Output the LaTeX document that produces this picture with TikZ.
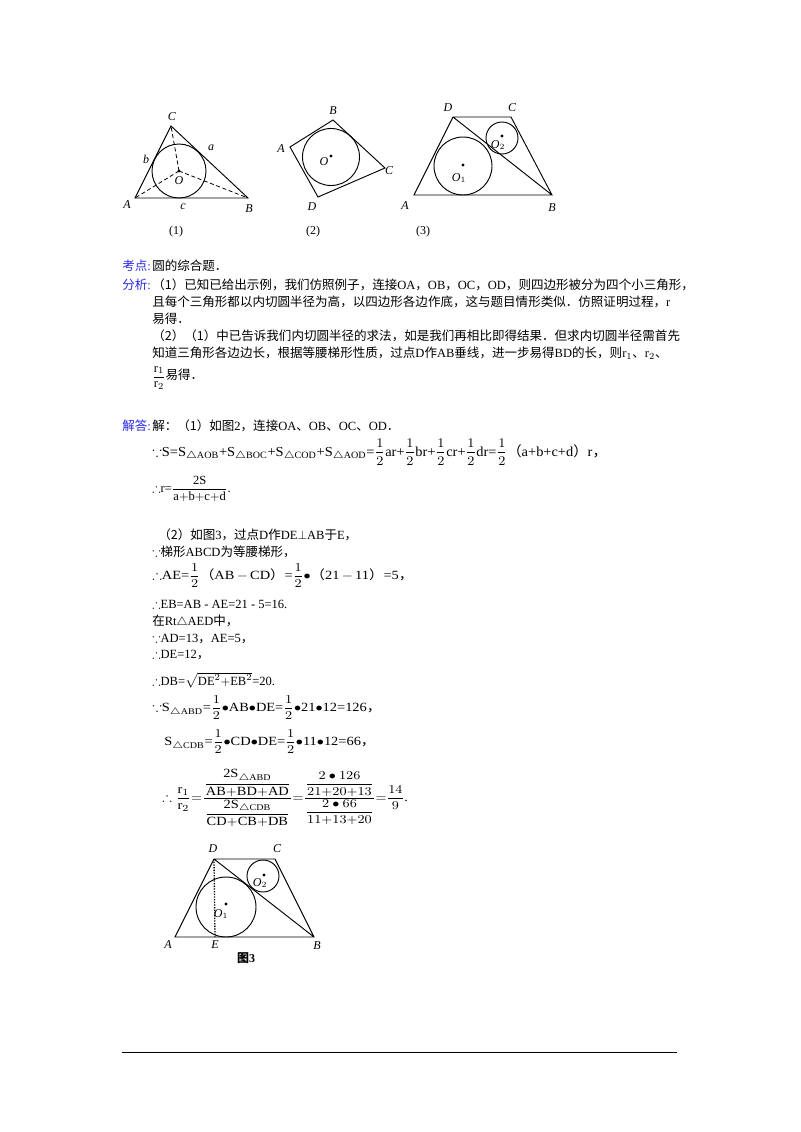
\documentclass[tikz,border=0pt]{standalone}
\usepackage{amsmath,amssymb}
\usepackage{fontspec}
\setmainfont{Liberation Serif}
\newfontfamily\cjk{Noto Sans CJK SC}
\definecolor{lblue}{RGB}{40,40,230}
\newcommand\zh[1]{{\cjk #1}}
\begin{document}
\begin{tikzpicture}[x=0.75pt,y=-0.75pt,
  txt/.style={anchor=west,inner sep=0,font=\fontsize{9.4}{11}\selectfont},
  wide/.style={txt,xscale=1.15},
  lab/.style={inner sep=0,font=\fontsize{9}{10}\selectfont\itshape},
  capt/.style={inner sep=0,font=\fontsize{9}{10}\selectfont},
  geo/.style={line width=0.7pt},
  dsh/.style={densely dashed,line width=0.6pt},
  dot/.style={fill,circle,inner sep=0,minimum size=2.5pt}]
\useasboundingbox (0,0) rectangle (800,1132);
% Figure 1
\coordinate (A1) at (135,198); \coordinate (B1) at (248,198); \coordinate (C1) at (171,126);
\coordinate (O1a) at (179,171);
\draw[geo] (A1)--(B1)--(C1)--cycle;
\draw[geo] (O1a) circle[radius=27];
\draw[dsh] (O1a)--(A1) (O1a)--(B1) (O1a)--(C1);
\node[dot] at (O1a) {};
\node[lab] (lC1) at (172,117) {C}; \node[lab] (la) at (211,148) {a};
\node[lab] (lb) at (146,159) {b}; \node[lab] (lO) at (179,181) {O};
\node[lab] (lA1) at (127,205) {A}; \node[lab] (lc) at (183,207) {c};
\node[lab] (lB1) at (249,209) {B}; \node[capt] (c1) at (176,232) {(1)};
% Figure 2
\coordinate (A2) at (290,147); \coordinate (B2) at (333,120); \coordinate (C2) at (385,168); \coordinate (D2) at (318,197);
\draw[geo] (A2)--(B2)--(C2)--(D2)--cycle;
\draw[geo] (331,157) circle[radius=28.5];
\node[dot] at (331,156) {};
\node[lab] at (333,111) {B}; \node[lab] at (281,149) {A};
\node[lab] at (389,171) {C}; \node[lab] at (312,207) {D};
\node[lab] at (324,162) {O}; \node[capt] at (313,232) {(2)};
% Figure 3
\coordinate (A3) at (414,195); \coordinate (B3) at (552,195); \coordinate (C3) at (511,117); \coordinate (D3) at (453,117);
\draw[geo] (A3)--(B3)--(C3)--(D3)--cycle (D3)--(B3);
\draw[geo] (463,166) circle[radius=29]; \draw[geo] (502,138) circle[radius=16];
\node[dot] at (463,165) {}; \node[dot] at (502,136) {};
\node[lab] at (448,108) {D}; \node[lab] at (512,108) {C};
\node[lab] at (405,206) {A}; \node[lab] at (552,208) {B};
\node[lab] at (459,178) {O$_1$}; \node[lab] at (498,145) {O$_2$};
\node[capt] at (423,232) {(3)};
% text
\node[txt,lblue] at (122,266) {\zh{考点}:};
\node[txt] at (152,266) {\zh{圆的综合题．}};
\node[txt,lblue] at (122,285) {\zh{分析}:};
\node[txt] at (152,285) {\zh{（1）已知已给出示例，我们仿照例子，连接}OA\zh{，}OB\zh{，}OC\zh{，}OD\zh{，则四边形被分为四个小三角形，}};
\node[txt] at (152,302) {\zh{且每个三角形都以内切圆半径为高，以四边形各边作底，这与题目情形类似．仿照证明过程，}r};
\node[txt] at (152,319) {\zh{易得．}};
\node[txt] at (152,336) {\zh{（2）（1）中已告诉我们内切圆半径的求法，如是我们再相比即得结果．但求内切圆半径需首先}};
\node[txt] at (152,353) {\zh{知道三角形各边边长，根据等腰梯形性质，过点}D\zh{作}AB\zh{垂线，进一步易得}BD\zh{的长，则}r$_1$\zh{、}r$_2$\zh{、}};
\node[txt] at (152,378) {$\dfrac{\mathrm{r}_1}{\mathrm{r}_2}$\zh{易得．}};
\node[txt,lblue] at (122,426) {\zh{解答}:};
\node[txt] at (152,426) {\zh{解：（1）如图}2\zh{，连接}OA\zh{、}OB\zh{、}OC\zh{、}OD\zh{．}};
\node[txt,xscale=1.15,yscale=1.1] at (152,452) {$\because$S=S$_{\triangle\mathrm{AOB}}$+S$_{\triangle\mathrm{BOC}}$+S$_{\triangle\mathrm{COD}}$+S$_{\triangle\mathrm{AOD}}$=$\dfrac12$ar+$\dfrac12$br+$\dfrac12$cr+$\dfrac12$dr=$\dfrac12$\zh{（}a+b+c+d\zh{）}r\zh{，}};
\node[txt] at (152,489) {$\therefore$r=$\dfrac{\mathrm{2S}}{\mathrm{a{+}b{+}c{+}d}}$.};
\node[txt] at (158,535) {\zh{（2）如图}3\zh{，过点}D\zh{作}DE$\perp$AB\zh{于}E\zh{，}};
\node[txt] at (152,552) {$\because$\zh{梯形}ABCD\zh{为等腰梯形，}};
\node[wide] at (152,576) {$\therefore$AE=$\dfrac12$\zh{（}AB$\,-\,$CD\zh{）}=$\dfrac12$$\bullet$\zh{（}21$\,-\,$11\zh{）}=5\zh{，}};
\node[txt] at (152,604) {$\therefore$EB=AB - AE=21 - 5=16.};
\node[txt] at (152,621) {\zh{在}Rt$\triangle$AED\zh{中，}};
\node[txt] at (152,639) {$\because$AD=13\zh{，}AE=5\zh{，}};
\node[txt] at (152,655) {$\therefore$DE=12\zh{，}};
\node[txt] at (152,680) {$\therefore$DB=$\sqrt{\mathrm{DE}^2\mathrm{+EB}^2}$=20.};
\node[wide] at (152,708) {$\because$S$_{\triangle\mathrm{ABD}}$=$\dfrac12$$\bullet$AB$\bullet$DE=$\dfrac12$$\bullet$21$\bullet$12=126\zh{，}};
\node[wide] at (164,742) {S$_{\triangle\mathrm{CDB}}$=$\dfrac12$$\bullet$CD$\bullet$DE=$\dfrac12$$\bullet$11$\bullet$12=66\zh{，}};
\node[wide] at (162,798) {$\therefore\dfrac{\mathrm{r}_1}{\mathrm{r}_2}{=}\dfrac{\dfrac{\mathrm{2S}_{\triangle\mathrm{ABD}}}{\mathrm{AB{+}BD{+}AD}}}{\dfrac{\mathrm{2S}_{\triangle\mathrm{CDB}}}{\mathrm{CD{+}CB{+}DB}}}{=}\dfrac{\dfrac{2\bullet126}{21{+}20{+}13}}{\dfrac{2\bullet66}{11{+}13{+}20}}{=}\dfrac{14}{9}$.};
% Figure 3 bis
\coordinate (A4) at (175,937); \coordinate (B4) at (314,937); \coordinate (C4) at (275,859); \coordinate (D4) at (214,859); \coordinate (E4) at (215,937);
\draw[geo] (A4)--(B4)--(C4)--(D4)--cycle (D4)--(B4);
\draw[densely dotted,line width=1pt] (D4)--(E4);
\draw[geo] (226,907) circle[radius=30]; \draw[geo] (263,876) circle[radius=16];
\node[dot] at (226,904) {}; \node[dot] at (264,875) {};
\node[lab] at (213,849) {D}; \node[lab] at (277,849) {C};
\node[lab] at (168,945) {A}; \node[lab] at (215,945) {E}; \node[lab] at (317,946) {B};
\node[lab] at (221,914) {O$_1$}; \node[lab] at (260,883) {O$_2$};
\node[capt,font=\fontsize{9}{10}\selectfont\bfseries] at (246,958) {\zh{图}3};
\draw[line width=0.6pt] (122,1052)--(677,1052);
\end{tikzpicture}
\end{document}
